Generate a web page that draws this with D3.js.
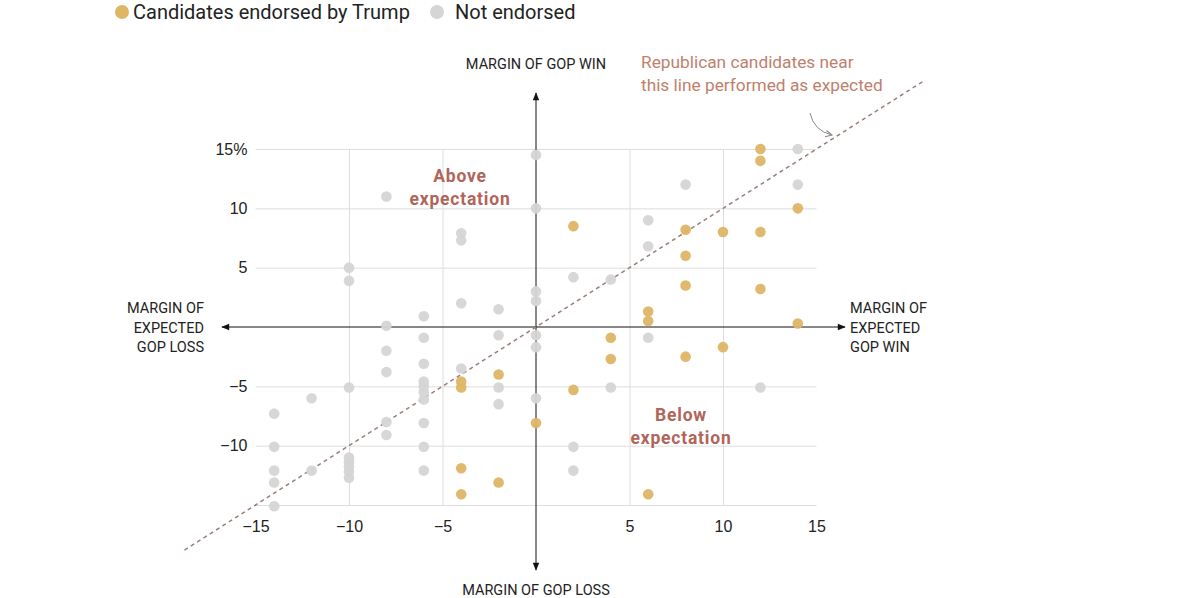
<!DOCTYPE html>
<html>
<head>
<meta charset="utf-8">
<script src="https://cdn.jsdelivr.net/npm/d3@7"></script>
<style>
  body { margin: 0; background: #fff; }
  svg { font-family: Roboto, "Liberation Sans", sans-serif; }
  .grid line { stroke: #dedede; }
  .grid .domain { display: none; }
  .ticks .domain { display: none; }
  .ticks text { font-size: 16px; fill: #222; }
</style>
</head>
<body>
<svg id="chart"></svg>
<script>
// x = expected margin, y = actual margin (percentage points)
const endorsedX = [12, 12, 14, 2, 8, 10, 12, 8, 8, 12, 6, 6, 14, 4, 4, 8, 10, 2, -4, -4, -2, 0, -4, -4, -2, 6];
const endorsedY = [15, 14, 10, 8.5, 8.2, 8, 8, 6, 3.5, 3.2, 1.3, 0.5, 0.3, -0.9, -2.7, -2.5, -1.7, -5.3, -4.6, -5.1, -4, -8.1, -11.9, -14.1, -13.1, -14.1];

const otherX = [0, 0, 14, 8, 14, 6, 6, 2, 4, 0, 0, -8, -10, -10, -4, -4, -4, -2, -6, -8,
  -2, -6, -8, -6, -8, -4, -2, -2, -6, -6, -6, -6, 0, 0, 0, -10, -12, -14, -8, -8,
  -6, -6, -6, -14, -14, -14, -14, -12, -10, -10, -10, -10, -10, 6, 4, 12, 2, 2];
const otherY = [14.5, 10, 15, 12, 12, 9, 6.8, 4.2, 4, 3, 2.2, 11, 5, 3.9, 7.9, 7.3, 2, 1.5, 0.9, 0.1,
  -0.7, -0.9, -2, -3.1, -3.8, -3.5, -5.1, -6.5, -4.6, -5, -5.5, -6.1, -0.7, -1.7, -6, -5.1, -6, -7.3, -8, -9.1,
  -8.1, -10.1, -12.1, -10.1, -12.1, -13.1, -15.1, -12.1, -11, -11.4, -11.8, -12.2, -12.7, -0.9, -5.1, -5.1, -10.1, -12.1];

const xTicks = [-15, -10, -5, 5, 10, 15];
const xGrid = [-10, -5, 5, 10];
const yTicks = [15, 10, 5, -5, -10];
const yGrid = [15, 10, 5, -5, -10, -15];
const lineEnds = [-18.8, 20.8];

const width = 1196, height = 598;
const gold = "#dfb566", gray = "#d5d5d5", note = "#bf7f6d", label = "#b0655a";

const svg = d3.select("#chart").attr("width", width).attr("height", height);

const x = d3.scaleLinear().domain([-15, 15]).range([255.5, 816.5]);
const y = d3.scaleLinear().domain([-15, 15]).range([505, 149]);

// gridlines
svg.append("g")
  .attr("class", "grid")
  .attr("transform", `translate(${x(-15)},0)`)
  .call(d3.axisLeft(y).tickValues(yGrid).tickSize(-(x(15) - x(-15))).tickFormat(""));

svg.append("g")
  .attr("class", "grid")
  .attr("transform", `translate(0,${y(-15)})`)
  .call(d3.axisBottom(x).tickValues(xGrid).tickSize(-(y(-15) - y(15))).tickFormat(""));

// tick labels
svg.append("g")
  .attr("class", "ticks")
  .attr("transform", `translate(${x(-15)},0)`)
  .call(d3.axisLeft(y).tickValues(yTicks).tickSize(0).tickPadding(8)
    .tickFormat(d => d === 15 ? "15%" : d3.format("")(d)));

svg.append("g")
  .attr("class", "ticks")
  .attr("transform", `translate(0,519)`)
  .call(d3.axisBottom(x).tickValues(xTicks).tickSize(0).tickPadding(2)
    .tickFormat(d3.format("")));

// arrowheads
const defs = svg.append("defs");
defs.append("marker")
  .attr("id", "arrow")
  .attr("viewBox", "0 0 10 10")
  .attr("refX", 9).attr("refY", 5)
  .attr("markerWidth", 10).attr("markerHeight", 8)
  .attr("markerUnits", "userSpaceOnUse")
  .attr("orient", "auto-start-reverse")
  .append("path").attr("d", "M0,1 L10,5 L0,9 Z").attr("fill", "#111");

defs.append("marker")
  .attr("id", "thin")
  .attr("viewBox", "0 0 10 10")
  .attr("refX", 9).attr("refY", 5)
  .attr("markerWidth", 8).attr("markerHeight", 8)
  .attr("markerUnits", "userSpaceOnUse")
  .attr("orient", "auto")
  .append("path").attr("d", "M1,1 L9,5 L1,9").attr("fill", "none")
  .attr("stroke", "#888").attr("stroke-width", 1.3);

// main axes
svg.append("line")
  .attr("x1", 222).attr("x2", 845)
  .attr("y1", y(0)).attr("y2", y(0))
  .attr("stroke", "#111").attr("stroke-width", 1)
  .attr("marker-start", "url(#arrow)").attr("marker-end", "url(#arrow)");

svg.append("line")
  .attr("x1", x(0)).attr("x2", x(0))
  .attr("y1", 93).attr("y2", 570)
  .attr("stroke", "#111").attr("stroke-width", 1)
  .attr("marker-start", "url(#arrow)").attr("marker-end", "url(#arrow)");

// axis titles
const axisText = (tx, ty, lines, anchor) => {
  const t = svg.append("text")
    .attr("x", tx).attr("y", ty)
    .attr("text-anchor", anchor)
    .style("font-size", "14.5px").attr("fill", "#222");
  lines.forEach((l, i) => t.append("tspan").attr("x", tx).attr("dy", i ? 19.5 : 0).text(l));
};
axisText(x(0), 69, ["MARGIN OF GOP WIN"], "middle");
axisText(x(0), 595, ["MARGIN OF GOP LOSS"], "middle");
axisText(204, 313, ["MARGIN OF", "EXPECTED", "GOP LOSS"], "end");
axisText(850, 313, ["MARGIN OF", "EXPECTED", "GOP WIN"], "start");

// expected-performance line
svg.append("line")
  .attr("x1", x(lineEnds[0])).attr("y1", y(lineEnds[0]))
  .attr("x2", x(lineEnds[1])).attr("y2", y(lineEnds[1]))
  .attr("stroke", "#9a7f78").attr("stroke-width", 1.5)
  .attr("stroke-dasharray", "4,3.5");

// dots
const others = otherX.map((v, i) => ({ x: v, y: otherY[i] }));
const endorsed = endorsedX.map((v, i) => ({ x: v, y: endorsedY[i] }));

svg.append("g").selectAll("circle")
  .data(others).join("circle")
  .attr("cx", d => x(d.x)).attr("cy", d => y(d.y))
  .attr("r", 5.3).attr("fill", gray).attr("opacity", 0.95);

svg.append("g").selectAll("circle")
  .data(endorsed).join("circle")
  .attr("cx", d => x(d.x)).attr("cy", d => y(d.y))
  .attr("r", 5.3).attr("fill", gold).attr("opacity", 0.95);

// region labels
const regionText = (tx, ty, lines) => {
  const t = svg.append("text")
    .attr("x", tx).attr("y", ty)
    .attr("text-anchor", "middle")
    .style("font-size", "17.5px").style("font-weight", "bold")
    .style("letter-spacing", "0.8px")
    .attr("fill", label);
  lines.forEach((l, i) => t.append("tspan").attr("x", tx).attr("dy", i ? 23 : 0).text(l));
};
regionText(460, 182, ["Above", "expectation"]);
regionText(681, 421, ["Below", "expectation"]);

// annotation
const ann = svg.append("text")
  .attr("x", 641).attr("y", 68)
  .style("font-size", "17.3px").attr("fill", note);
ann.append("tspan").attr("x", 641).attr("dy", 0).text("Republican candidates near");
ann.append("tspan").attr("x", 641).attr("dy", 23).text("this line performed as expected");

svg.append("path")
  .attr("d", "M810,113 Q814,131 832,135")
  .attr("fill", "none").attr("stroke", "#888").attr("stroke-width", 1)
  .attr("marker-end", "url(#thin)");

// legend
const legend = svg.append("g");
legend.append("circle").attr("cx", 122).attr("cy", 12).attr("r", 7).attr("fill", gold);
legend.append("text").attr("x", 133).attr("y", 19)
  .style("font-size", "20px").attr("fill", "#222").text("Candidates endorsed by Trump");
legend.append("circle").attr("cx", 437).attr("cy", 12).attr("r", 7).attr("fill", gray);
legend.append("text").attr("x", 455).attr("y", 19)
  .style("font-size", "20px").attr("fill", "#222").text("Not endorsed");
</script>
</body>
</html>
